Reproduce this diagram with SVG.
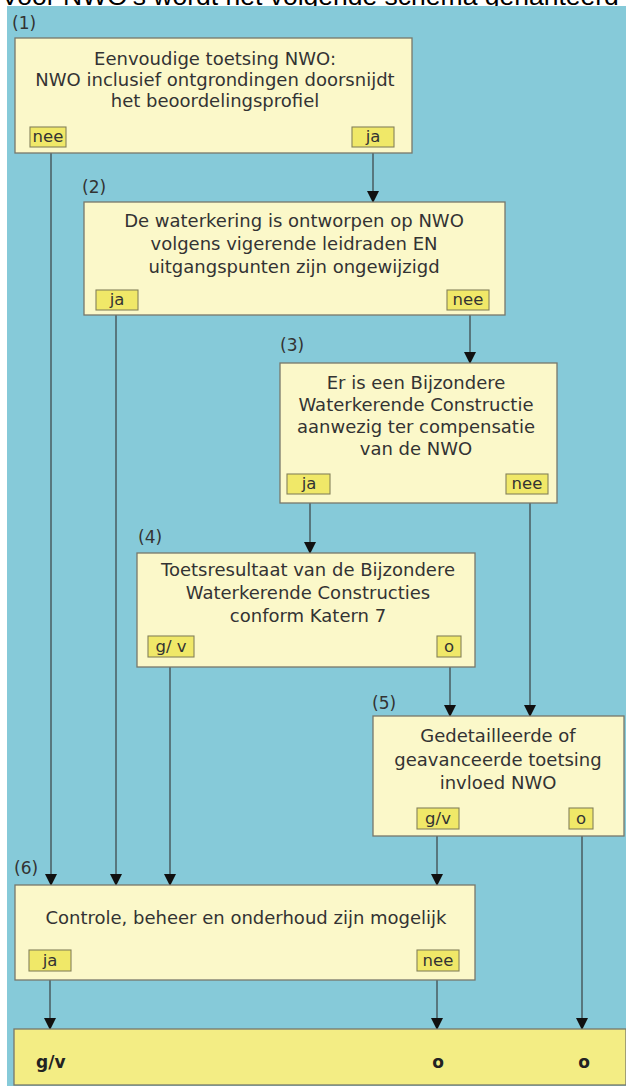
<svg xmlns="http://www.w3.org/2000/svg" width="626" height="1086" viewBox="0 0 626 1086">
<style>
.bg{fill:#86cad9}
.box{fill:#fbf8c9;stroke:#77776a;stroke-width:1.3}
.tag{fill:#f0e868;stroke:#85815a;stroke-width:1.1}
.bar{fill:#f3ed84;stroke:#77776a;stroke-width:1.3}
.t{font-family:"DejaVu Sans",sans-serif;font-size:18px;fill:#333;text-anchor:middle}
.tg{font-family:"DejaVu Sans",sans-serif;font-size:16.5px;fill:#333;text-anchor:middle}
.num{font-family:"DejaVu Sans",sans-serif;font-size:17px;fill:#333}
.res{font-family:"DejaVu Sans",sans-serif;font-size:17px;font-weight:bold;fill:#222}
.hdr{font-family:"Liberation Sans",Arial,sans-serif;font-size:26.5px;fill:#000}
.ln{stroke:#333;stroke-width:1.1;fill:none}
</style>
<defs>
<marker id="ah" markerWidth="12" markerHeight="12" refX="11" refY="6" orient="auto" markerUnits="userSpaceOnUse">
<path d="M0,0 L12,6 L0,12 Z" fill="#111"/>
</marker>
</defs>
<rect x="0" y="0" width="626" height="1086" fill="#ffffff"/>
<text class="hdr" x="1" y="5">Voor NWO's wordt het volgende schema gehanteerd</text>
<rect class="bg" x="7" y="6" width="619" height="1080"/>

<g id="connectors">
<line class="ln" x1="51" y1="153" x2="51" y2="885" marker-end="url(#ah)"/>
<line class="ln" x1="373" y1="153" x2="373" y2="202" marker-end="url(#ah)"/>
<line class="ln" x1="116" y1="315" x2="116" y2="885" marker-end="url(#ah)"/>
<line class="ln" x1="470" y1="315" x2="470" y2="363" marker-end="url(#ah)"/>
<line class="ln" x1="310" y1="503" x2="310" y2="553" marker-end="url(#ah)"/>
<line class="ln" x1="530" y1="503" x2="530" y2="716" marker-end="url(#ah)"/>
<line class="ln" x1="170" y1="667" x2="170" y2="885" marker-end="url(#ah)"/>
<line class="ln" x1="450" y1="667" x2="450" y2="716" marker-end="url(#ah)"/>
<line class="ln" x1="437" y1="836" x2="437" y2="885" marker-end="url(#ah)"/>
<line class="ln" x1="582" y1="836" x2="582" y2="1029" marker-end="url(#ah)"/>
<line class="ln" x1="50" y1="980" x2="50" y2="1029" marker-end="url(#ah)"/>
<line class="ln" x1="437" y1="980" x2="437" y2="1029" marker-end="url(#ah)"/>
</g>

<g id="node1">
<text class="num" x="12" y="29">(1)</text>
<rect class="box" x="15" y="38" width="397" height="115"/>
<text class="t" x="215" y="65">Eenvoudige toetsing NWO:</text>
<text class="t" x="215" y="86">NWO inclusief ontgrondingen doorsnijdt</text>
<text class="t" x="215" y="107">het beoordelingsprofiel</text>
<rect class="tag" x="30" y="127" width="36" height="20"/>
<text class="tg" x="48" y="142">nee</text>
<rect class="tag" x="352" y="127" width="42" height="20"/>
<text class="tg" x="373" y="142">ja</text>
</g>

<g id="node2">
<text class="num" x="82" y="193">(2)</text>
<rect class="box" x="84" y="202" width="421" height="113"/>
<text class="t" x="294" y="227">De waterkering is ontworpen op NWO</text>
<text class="t" x="294" y="250">volgens vigerende leidraden EN</text>
<text class="t" x="294" y="273">uitgangspunten zijn ongewijzigd</text>
<rect class="tag" x="96" y="290" width="42" height="20"/>
<text class="tg" x="117" y="305">ja</text>
<rect class="tag" x="447" y="290" width="42" height="20"/>
<text class="tg" x="468" y="305">nee</text>
</g>

<g id="node3">
<text class="num" x="280" y="351">(3)</text>
<rect class="box" x="280" y="363" width="277" height="140"/>
<text class="t" x="416" y="389">Er is een Bijzondere</text>
<text class="t" x="416" y="411">Waterkerende Constructie</text>
<text class="t" x="416" y="433">aanwezig ter compensatie</text>
<text class="t" x="416" y="455">van de NWO</text>
<rect class="tag" x="287" y="474" width="43" height="20"/>
<text class="tg" x="309" y="489">ja</text>
<rect class="tag" x="506" y="474" width="42" height="20"/>
<text class="tg" x="527" y="489">nee</text>
</g>

<g id="node4">
<text class="num" x="138" y="543">(4)</text>
<rect class="box" x="137" y="553" width="338" height="114"/>
<text class="t" x="308" y="576">Toetsresultaat van de Bijzondere</text>
<text class="t" x="308" y="599">Waterkerende Constructies</text>
<text class="t" x="308" y="622">conform Katern 7</text>
<rect class="tag" x="148" y="636" width="46" height="21"/>
<text class="tg" x="171" y="652">g/ v</text>
<rect class="tag" x="437" y="636" width="24" height="21"/>
<text class="tg" x="449" y="652">o</text>
</g>

<g id="node5">
<text class="num" x="372" y="709">(5)</text>
<rect class="box" x="373" y="716" width="251" height="120"/>
<text class="t" x="498" y="742">Gedetailleerde of</text>
<text class="t" x="498" y="766">geavanceerde toetsing</text>
<text class="t" x="498" y="789">invloed NWO</text>
<rect class="tag" x="417" y="808" width="42" height="21"/>
<text class="tg" x="438" y="824">g/v</text>
<rect class="tag" x="569" y="808" width="24" height="21"/>
<text class="tg" x="581" y="824">o</text>
</g>

<g id="node6">
<text class="num" x="14" y="874">(6)</text>
<rect class="box" x="15" y="885" width="460" height="95"/>
<text class="t" x="246" y="924">Controle, beheer en onderhoud zijn mogelijk</text>
<rect class="tag" x="29" y="950" width="42" height="21"/>
<text class="tg" x="50" y="966">ja</text>
<rect class="tag" x="417" y="950" width="42" height="21"/>
<text class="tg" x="438" y="966">nee</text>
</g>

<g id="result">
<rect class="bar" x="14" y="1029" width="612" height="56"/>
<text class="res" x="36" y="1068">g/v</text>
<text class="res" x="438" y="1068" text-anchor="middle">o</text>
<text class="res" x="584" y="1068" text-anchor="middle">o</text>
</g>
</svg>
